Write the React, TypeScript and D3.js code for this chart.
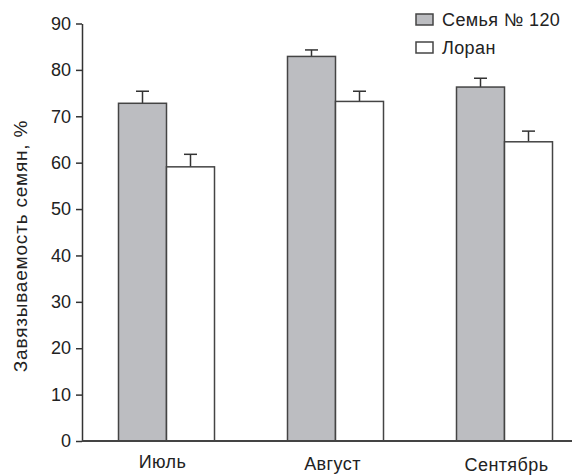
import React, { useEffect, useRef } from "react";
import * as d3 from "d3";

// months on the x axis
const months = ["Июль", "Август", "Сентябрь"];
const seriesNames = ["Семья № 120", "Лоран"];
// mean values (%)
const family120 = [72.8, 82.9, 76.3];
const loran = [59.1, 73.2, 64.5];
// upper error
const family120Err = [2.6, 1.4, 1.9];
const loranErr = [2.7, 2.2, 2.3];
const yTicks = [0, 10, 20, 30, 40, 50, 60, 70, 80, 90];

const W = 572;
const H = 475;

const App = () => {
  const ref = useRef<SVGSVGElement>(null);

  useEffect(() => {
    const svg = d3.select(ref.current);
    svg.selectAll("*").remove();
    const font = "Liberation Sans, Arial, sans-serif";
    const left = 82;
    const zeroY = 441;
    const topY = 23.5;

    const y = d3.scaleLinear().domain([0, 90]).range([zeroY, topY]);
    const x = d3.scaleBand().domain(months).range([left, left + 3 * 169]).paddingInner(0).paddingOuter(0);
    const groupW = 96;
    const xs = d3.scaleBand().domain(seriesNames).range([0, groupW]);

    const data = months.map((m, i) => ({
      month: m,
      vals: [
        { s: seriesNames[0], v: family120[i], e: family120Err[i], fill: "#bcbdc1" },
        { s: seriesNames[1], v: loran[i], e: loranErr[i], fill: "#ffffff" },
      ],
    }));

    const g = svg.append("g");

    const groups = g
      .selectAll("g.grp")
      .data(data)
      .enter()
      .append("g")
      .attr("transform", (d) => `translate(${x(d.month)! + x.bandwidth() / 2 - groupW / 2},0)`);

    // error bars (upward only)
    groups
      .selectAll("g.err")
      .data((d) => d.vals)
      .enter()
      .append("g")
      .each(function (d) {
        const cx = xs(d.s)! + xs.bandwidth() / 2;
        const el = d3.select(this);
        el.append("line")
          .attr("x1", cx).attr("x2", cx)
          .attr("y1", y(d.v)).attr("y2", y(d.v + d.e))
          .attr("stroke", "#333").attr("stroke-width", 1.5);
        el.append("line")
          .attr("x1", cx - 6.5).attr("x2", cx + 6.5)
          .attr("y1", y(d.v + d.e)).attr("y2", y(d.v + d.e))
          .attr("stroke", "#333").attr("stroke-width", 1.5);
      });

    groups
      .selectAll("rect")
      .data((d) => d.vals)
      .enter()
      .append("rect")
      .attr("x", (d) => xs(d.s)!)
      .attr("width", xs.bandwidth())
      .attr("y", (d) => y(d.v))
      .attr("height", (d) => zeroY - y(d.v))
      .attr("fill", (d) => d.fill)
      .attr("stroke", "#444")
      .attr("stroke-width", 1.5);

    // y axis
    const yAxis = g
      .append("g")
      .attr("transform", `translate(${left},0)`)
      .call(d3.axisLeft(y).tickValues(yTicks).tickSize(6).tickPadding(5).tickSizeOuter(0));
    yAxis.select(".domain").attr("stroke", "#333").attr("stroke-width", 1.5);
    yAxis.selectAll(".tick line").attr("stroke", "#333").attr("stroke-width", 1.5);
    yAxis.selectAll(".tick text").attr("font-family", font).attr("font-size", 18).attr("fill", "#222");

    // x axis line
    g.append("line")
      .attr("x1", left).attr("x2", W)
      .attr("y1", zeroY).attr("y2", zeroY)
      .attr("stroke", "#444").attr("stroke-width", 2);

    // x labels (slightly staggered as in the original)
    const labelY = [468, 469.5, 471];
    const labelDx = [-4, -3, 2];
    g.selectAll("text.xl")
      .data(months)
      .enter()
      .append("text")
      .attr("x", (d, i) => x(d)! + x.bandwidth() / 2 + labelDx[i])
      .attr("y", (d, i) => labelY[i])
      .attr("text-anchor", "middle")
      .attr("font-family", font)
      .attr("font-size", 18)
      .attr("letter-spacing", 0.4)
      .attr("fill", "#222")
      .text((d) => d);

    // y label
    g.append("text")
      .attr("transform", `translate(27,246) rotate(-90)`)
      .attr("text-anchor", "middle")
      .attr("font-family", font)
      .attr("font-size", 19)
      .attr("letter-spacing", 0.8)
      .attr("fill", "#222")
      .text("Завязываемость семян, %");

    // legend
    const legend = g
      .selectAll("g.lg")
      .data(seriesNames)
      .enter()
      .append("g")
      .attr("transform", (d, i) => `translate(416,${14 + i * 28})`);
    legend
      .append("rect")
      .attr("width", 17)
      .attr("height", 11)
      .attr("fill", (d, i) => (i === 0 ? "#bcbdc1" : "#fff"))
      .attr("stroke", "#444")
      .attr("stroke-width", 1.5);
    legend
      .append("text")
      .attr("x", 26)
      .attr("y", 12)
      .attr("font-family", font)
      .attr("font-size", 18)
      .attr("letter-spacing", 0.4)
      .attr("fill", "#222")
      .text((d) => d);
  }, []);

  return (
    <svg
      ref={ref}
      width={W}
      height={H}
      style={{ position: "absolute", left: 0, top: 0, background: "#fff" }}
    />
  );
};

export default App;
